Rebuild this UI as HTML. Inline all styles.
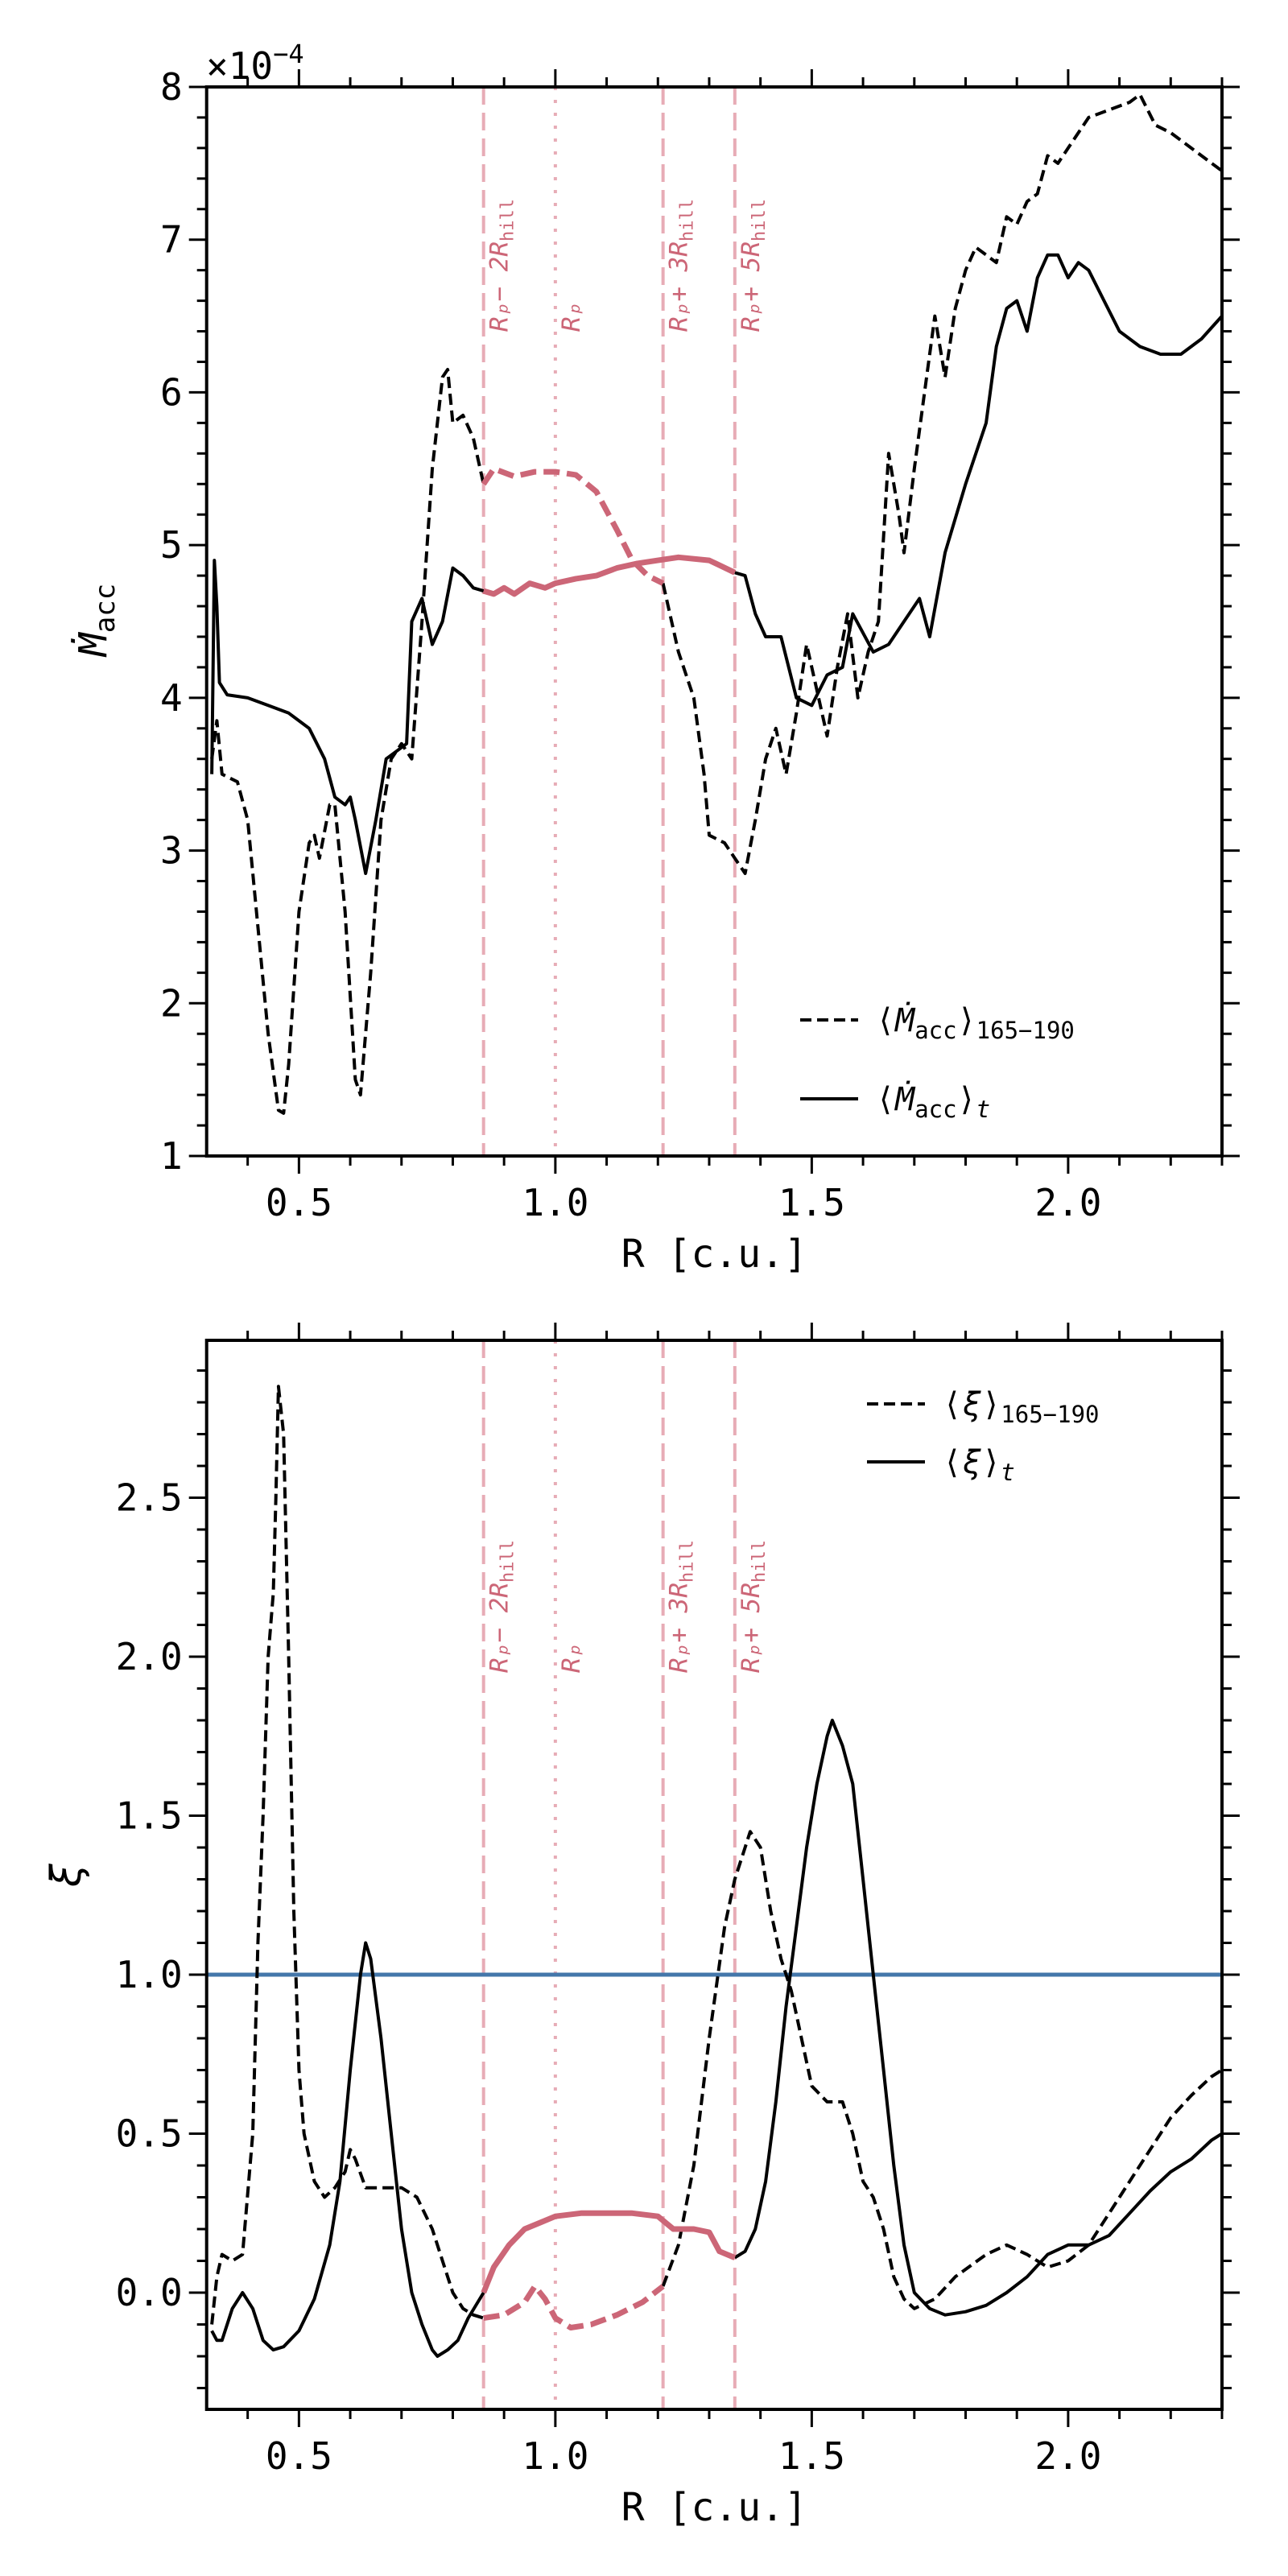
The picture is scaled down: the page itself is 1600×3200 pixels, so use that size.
<!DOCTYPE html>
<html><head><meta charset="utf-8">
<style>
html,body{margin:0;padding:0;background:#fff;}
svg{display:block;}
text{font-family:"DejaVu Sans Mono","Liberation Mono",monospace;}
</style></head>
<body>
<svg id="fig" width="1600" height="3200" viewBox="0 0 1600 3200" xmlns="http://www.w3.org/2000/svg"></svg>
<script>
// ---------- data ----------
const topDashR = [0.33,0.34,0.35,0.38,0.40,0.42,0.44,0.46,0.47,0.48,0.50,0.52,0.53,0.54,0.56,0.57,0.59,0.61,0.62,0.64,0.66,0.68,0.70,0.72,0.74,0.76,0.78,0.79,0.80,0.82,0.84,0.86,0.88,0.92,0.96,1.00,1.04,1.08,1.12,1.15,1.18,1.21,1.24,1.27,1.29,1.30,1.33,1.35,1.37,1.39,1.41,1.43,1.45,1.47,1.49,1.51,1.53,1.55,1.57,1.59,1.61,1.63,1.65,1.67,1.68,1.70,1.72,1.74,1.76,1.78,1.80,1.82,1.84,1.86,1.88,1.90,1.92,1.94,1.96,1.98,2.00,2.04,2.08,2.12,2.14,2.17,2.20,2.24,2.28,2.30];
const topDashV = [3.6,3.85,3.5,3.45,3.2,2.5,1.8,1.3,1.28,1.6,2.6,3.05,3.1,2.95,3.3,3.3,2.6,1.5,1.4,2.2,3.2,3.6,3.7,3.6,4.5,5.5,6.1,6.15,5.8,5.85,5.7,5.4,5.5,5.45,5.48,5.48,5.46,5.35,5.1,4.9,4.8,4.75,4.3,4.0,3.5,3.1,3.05,2.95,2.85,3.2,3.6,3.8,3.5,3.9,4.35,4.05,3.75,4.2,4.55,4.0,4.3,4.5,5.6,5.2,4.95,5.5,6.0,6.5,6.1,6.55,6.8,6.95,6.9,6.85,7.15,7.1,7.25,7.3,7.55,7.5,7.6,7.8,7.85,7.9,7.95,7.75,7.7,7.6,7.5,7.45];
const topSolR = [0.33,0.335,0.34,0.345,0.36,0.40,0.44,0.48,0.52,0.55,0.57,0.59,0.60,0.61,0.63,0.65,0.67,0.69,0.71,0.72,0.74,0.76,0.78,0.80,0.82,0.84,0.86,0.88,0.90,0.92,0.95,0.98,1.00,1.04,1.08,1.12,1.16,1.20,1.24,1.30,1.35,1.37,1.39,1.41,1.44,1.47,1.50,1.53,1.56,1.58,1.62,1.65,1.68,1.71,1.73,1.76,1.80,1.84,1.86,1.88,1.90,1.92,1.94,1.96,1.98,2.00,2.02,2.04,2.07,2.10,2.14,2.18,2.22,2.26,2.30];
const topSolV = [3.5,4.9,4.6,4.1,4.02,4.0,3.95,3.9,3.8,3.6,3.35,3.3,3.35,3.2,2.85,3.2,3.6,3.65,3.7,4.5,4.65,4.35,4.5,4.85,4.8,4.72,4.7,4.68,4.72,4.68,4.75,4.72,4.75,4.78,4.8,4.85,4.88,4.9,4.92,4.9,4.82,4.8,4.55,4.4,4.4,4.0,3.95,4.15,4.2,4.55,4.3,4.35,4.5,4.65,4.4,4.95,5.4,5.8,6.3,6.55,6.6,6.4,6.75,6.9,6.9,6.75,6.85,6.8,6.6,6.4,6.3,6.25,6.25,6.35,6.5];
const botDashR = [0.33,0.34,0.35,0.37,0.39,0.41,0.42,0.43,0.44,0.45,0.455,0.46,0.47,0.48,0.49,0.50,0.51,0.53,0.55,0.57,0.59,0.60,0.61,0.63,0.66,0.70,0.73,0.76,0.78,0.80,0.82,0.84,0.86,0.90,0.94,0.96,0.98,1.00,1.03,1.07,1.12,1.17,1.21,1.24,1.27,1.30,1.33,1.35,1.37,1.38,1.40,1.42,1.44,1.46,1.48,1.50,1.53,1.56,1.58,1.60,1.62,1.64,1.66,1.68,1.70,1.74,1.78,1.84,1.88,1.92,1.96,2.00,2.04,2.08,2.12,2.16,2.20,2.24,2.28,2.30];
const botDashV = [-0.1,0.05,0.12,0.1,0.12,0.5,1.1,1.5,2.0,2.2,2.5,2.85,2.7,2.0,1.2,0.7,0.5,0.35,0.3,0.33,0.38,0.45,0.42,0.33,0.33,0.33,0.3,0.2,0.1,0.0,-0.05,-0.07,-0.08,-0.07,-0.03,0.02,-0.02,-0.08,-0.11,-0.1,-0.07,-0.03,0.02,0.15,0.4,0.8,1.15,1.3,1.4,1.45,1.4,1.2,1.05,0.95,0.8,0.65,0.6,0.6,0.5,0.35,0.3,0.2,0.05,-0.02,-0.05,-0.02,0.05,0.12,0.15,0.12,0.08,0.1,0.15,0.25,0.35,0.45,0.55,0.62,0.68,0.7];
const botSolR = [0.33,0.34,0.35,0.37,0.39,0.41,0.43,0.45,0.47,0.50,0.53,0.56,0.58,0.60,0.62,0.63,0.64,0.66,0.68,0.70,0.72,0.74,0.76,0.77,0.79,0.81,0.83,0.86,0.88,0.91,0.94,0.97,1.00,1.05,1.10,1.15,1.20,1.23,1.27,1.30,1.32,1.35,1.37,1.39,1.41,1.43,1.45,1.47,1.49,1.51,1.53,1.54,1.56,1.58,1.60,1.62,1.64,1.66,1.68,1.70,1.73,1.76,1.80,1.84,1.88,1.92,1.96,2.00,2.04,2.08,2.12,2.16,2.20,2.24,2.28,2.30];
const botSolV = [-0.12,-0.15,-0.15,-0.05,0.0,-0.05,-0.15,-0.18,-0.17,-0.12,-0.02,0.15,0.35,0.7,1.0,1.1,1.05,0.8,0.5,0.2,0.0,-0.1,-0.18,-0.2,-0.18,-0.15,-0.08,0.0,0.08,0.15,0.2,0.22,0.24,0.25,0.25,0.25,0.24,0.2,0.2,0.19,0.13,0.11,0.13,0.2,0.35,0.6,0.9,1.15,1.4,1.6,1.75,1.8,1.72,1.6,1.3,1.0,0.7,0.4,0.15,0.0,-0.05,-0.07,-0.06,-0.04,0.0,0.05,0.12,0.15,0.15,0.18,0.25,0.32,0.38,0.42,0.48,0.5];
const vlineR = [0.86,1.0,1.21,1.35];
const vlineLabels = ["R\u209a\u2212 2R","R\u209a","R\u209a+ 3R","R\u209a+ 5R"];
const xTicks = [0.5,1.0,1.5,2.0];
const topYTicks = [1,2,3,4,5,6,7,8];
const botYTicks = [0.0,0.5,1.0,1.5,2.0,2.5];

// ---------- layout ----------
const NS="http://www.w3.org/2000/svg";
const svg=document.getElementById('fig');
const X0=256.7,X1=1518,XMIN=0.32,XMAX=2.30;
const xs=r=>X0+(r-XMIN)/(XMAX-XMIN)*(X1-X0);
const panels=[
 {y0:108,y1:1436,ymin:1,ymax:8,ticks:topYTicks,minor:0.2,fmt:v=>String(v)},
 {y0:1665,y1:2993,ymin:-0.367,ymax:2.995,ticks:botYTicks,minor:0.1,fmt:v=>v.toFixed(1)}
];
panels.forEach(p=>{p.ys=v=>p.y1-(v-p.ymin)/(p.ymax-p.ymin)*(p.y1-p.y0);});
const RED="#cc6677",LIGHT="#e7acb6",BLUE="#4477aa";

function el(tag,attrs,parent){const e=document.createElementNS(NS,tag);for(const k in attrs)e.setAttribute(k,attrs[k]);(parent||svg).appendChild(e);return e;}
function pathFrom(R,V,p,lo,hi){let d='';let first=true;for(let i=0;i<R.length;i++){if(R[i]<lo-1e-9||R[i]>hi+1e-9)continue;d+=(first?'M':'L')+xs(R[i]).toFixed(1)+','+p.ys(V[i]).toFixed(1);first=false;}return d;}

panels.forEach((p,pi)=>{
 const g=el('g',{});
 
 
 const cid='clip'+pi;
 const cp=el('clipPath',{id:cid},g);el('rect',{x:X0,y:p.y0,width:X1-X0,height:p.y1-p.y0},cp);
 vlineR.forEach((r,i)=>{
  const l=el('line',{x1:xs(r),x2:xs(r),y1:p.y0,y2:p.y1,stroke:LIGHT,'stroke-width':4,'stroke-dasharray':i===1?'4,12':'22,10'},g);
  
  
  const ty=pi===0?412:2078;
  const t=el('text',{transform:`translate(${xs(r)+30},${ty}) rotate(-90)`,'font-size':31,fill:RED,'font-family':'"DejaVu Sans",sans-serif','font-style':'italic'},g);
  
  
  t.textContent=vlineLabels[i];
  if(i!==1){const s=el('tspan',{'font-size':22,dy:7,'font-style':'normal'},t);s.textContent='hill';}
 });
 if(pi===1){
  const b=el('line',{x1:X0,x2:X1,y1:p.ys(1),y2:p.ys(1),stroke:BLUE,'stroke-width':5},g);
  
  
 }
 const R1=pi===0?topDashR:botDashR,V1=pi===0?topDashV:botDashV;
 const R2=pi===0?topSolR:botSolR,V2=pi===0?topSolV:botSolV;
 const cg=el('g',{'clip-path':`url(#${cid})`,fill:'none','stroke-linejoin':'round'},g);
 let s;
 s=el('path',{d:pathFrom(R1,V1,p,0,0.86),stroke:'#000','stroke-width':4,'stroke-dasharray':'14,7'},cg);
 
 s=el('path',{d:pathFrom(R1,V1,p,1.21,3),stroke:'#000','stroke-width':4,'stroke-dasharray':'14,7'},cg);
 
 s=el('path',{d:pathFrom(R1,V1,p,0.86,1.21),stroke:RED,'stroke-width':7,'stroke-dasharray':'20,9'},cg);
 
 s=el('path',{d:pathFrom(R2,V2,p,0,0.86),stroke:'#000','stroke-width':4},cg);
 
 s=el('path',{d:pathFrom(R2,V2,p,1.35,3),stroke:'#000','stroke-width':4},cg);
 
 s=el('path',{d:pathFrom(R2,V2,p,0.86,1.35),stroke:RED,'stroke-width':7},cg);
 
 const fr=el('rect',{x:X0,y:p.y0,width:X1-X0,height:p.y1-p.y0,fill:'none',stroke:'#000','stroke-width':4},g);
 
 for(let k=4;k<=23;k++){const r=k/10;if(r<XMIN||r>XMAX)continue;const major=k%5===0;const L=major?22:12;const x=xs(r);
  el('line',{x1:x,x2:x,y1:p.y1,y2:p.y1+L,stroke:'#000','stroke-width':3},g);
  el('line',{x1:x,x2:x,y1:p.y0,y2:p.y0-L,stroke:'#000','stroke-width':3},g);}
 xTicks.forEach(v=>{const t=el('text',{x:xs(v),y:p.y1+74,'font-size':46,'text-anchor':'middle'},g);
  t.textContent=v.toFixed(1);});
 const xl=el('text',{x:(X0+X1)/2,y:p.y1+138,'font-size':48,'text-anchor':'middle'},g);
 xl.textContent='R [c.u.]';
 for(let k=Math.floor(p.ymin/p.minor);k<=Math.ceil(p.ymax/p.minor);k++){const v=k*p.minor;if(v<p.ymin-1e-6||v>p.ymax+1e-6)continue;
  const major=p.ticks.some(t=>Math.abs(t-v)<1e-6);const L=major?22:12;const y=p.ys(v);
  el('line',{x1:X0,x2:X0-L,y1:y,y2:y,stroke:'#000','stroke-width':3},g);
  el('line',{x1:X1,x2:X1+L,y1:y,y2:y,stroke:'#000','stroke-width':3},g);}
 p.ticks.forEach(v=>{const t=el('text',{x:X0-30,y:p.ys(v)+16,'font-size':46,'text-anchor':'end'},g);
  t.textContent=p.fmt(v);});
});

function txt(attrs,content,name){const t=el('text',attrs);t.innerHTML=content;return t;}
txt({x:256,y:98,'font-size':46},'×10<tspan dy="-20" font-size="32">−4</tspan>','scale-factor-label');
txt({transform:'translate(132,770) rotate(-90)','font-size':48,'text-anchor':'middle','font-family':'"DejaVu Sans",sans-serif'},'<tspan font-style="italic">Ṁ</tspan><tspan font-size="34" dy="10">acc</tspan>','y-axis-title-top');
txt({transform:'translate(100,2330) rotate(-90)','font-size':52,'text-anchor':'middle','font-family':'"DejaVu Sans",sans-serif','font-style':'italic'},'ξ','y-axis-title-bottom');

function legend(x,y,dashed,label,name){const g=el('g',{});
 el('line',{x1:x,x2:x+72,y1:y,y2:y,stroke:'#000','stroke-width':4,'stroke-dasharray':dashed?'14,7':'none'},g);
 const t=el('text',{x:x+94,y:y+14,'font-size':40,'font-family':'"DejaVu Sans",sans-serif'},g);t.innerHTML=label;}
legend(994,1267,true,'⟨<tspan font-style="italic">Ṁ</tspan><tspan font-size="29" dy="9">acc</tspan><tspan dy="-9">⟩</tspan><tspan font-size="29" dy="9">165−190</tspan>','legend-entry-mean-165-190');
legend(994,1365,false,'⟨<tspan font-style="italic">Ṁ</tspan><tspan font-size="29" dy="9">acc</tspan><tspan dy="-9">⟩</tspan><tspan font-size="29" dy="9" font-style="italic">t</tspan>','legend-entry-time-mean');
legend(1077,1744,true,'⟨<tspan font-style="italic">ξ</tspan>⟩<tspan font-size="29" dy="9">165−190</tspan>','legend-entry-xi-165-190');
legend(1077,1816,false,'⟨<tspan font-style="italic">ξ</tspan>⟩<tspan font-size="29" dy="9" font-style="italic">t</tspan>','legend-entry-xi-time');
</script>
</body></html>
